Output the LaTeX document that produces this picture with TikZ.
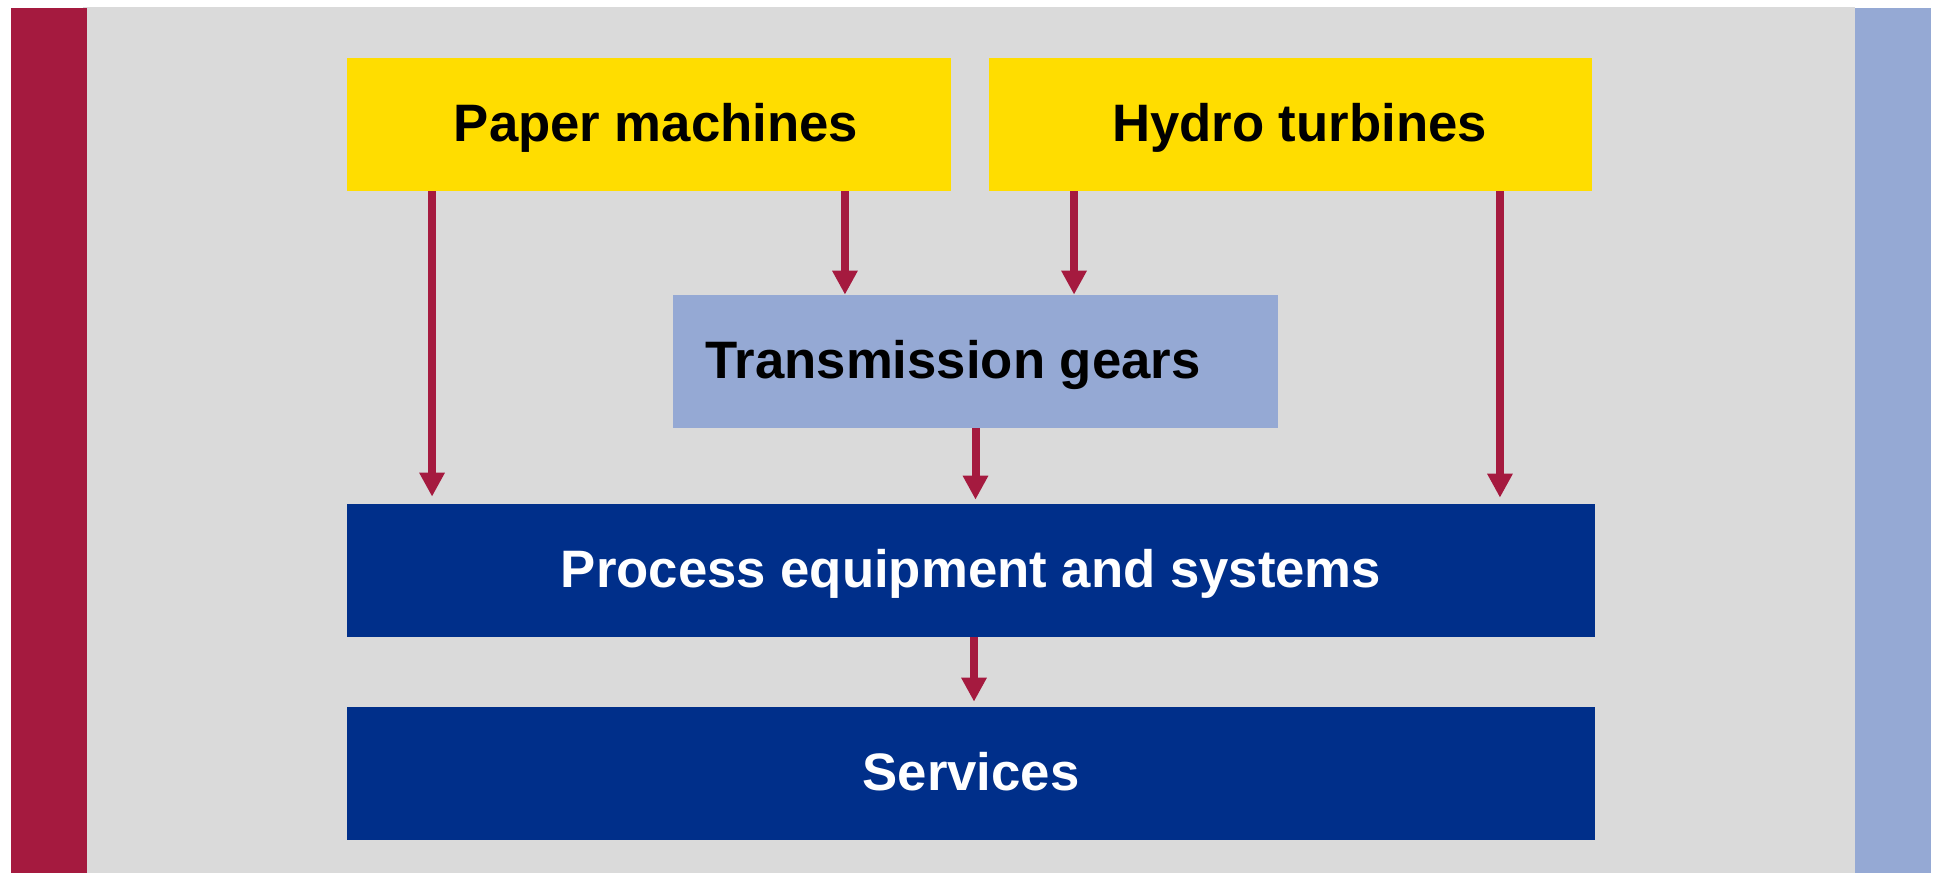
\documentclass[tikz,border=0pt]{standalone}
\usepackage{fontspec}
\setmainfont{Liberation Sans}
\usetikzlibrary{arrows.meta}
\definecolor{barred}{HTML}{A51A3F}
\definecolor{panelgray}{HTML}{DADADA}
\definecolor{barblue}{HTML}{95A9D4}
\definecolor{boxyellow}{HTML}{FFDD00}
\definecolor{boxnavy}{HTML}{002F8A}
\tikzset{%
	every box/.style={
		rectangle,
		inner sep=0pt,
		minimum height=2.66cm,
		text height=22pt,
		text depth=3pt,
		font=\fontsize{30}{36}\selectfont\bfseries
	},
	yellowbox/.style={every box, fill=boxyellow, text=black, minimum width=12.08cm},
	gearbox/.style={every box, fill=barblue, text=black, minimum width=12.1cm},
	navybox/.style={every box, fill=boxnavy, text=white, minimum width=24.96cm},
	flow/.style={
		draw=barred,
		line width=0.16cm,
		-{Triangle[length=0.48cm, width=0.48cm]}
	},
}

\begin{document}
\begin{tikzpicture}[x=0.02cm, y=-0.02cm]
	\useasboundingbox (0,0) rectangle (1934,873);
	% panel and side bars
	\fill[white] (0,0) rectangle (1934,873);
	\fill[panelgray] (83,7) rectangle (1855,873);
	\fill[barred] (11,8) rectangle (87,873);
	\fill[barblue] (1855,8) rectangle (1931,873);
	
	\node[yellowbox] (paper) at (649,124.5) {\hspace{0.28cm}Paper machines};
	\node[yellowbox] (hydro) at (1290.5,124.5) {\hspace{0.36cm}Hydro turbines};
	\node[gearbox] (gears) at (975.5,361.5) {Transmission gears\kern0.9cm};
	\node[navybox] (process) at (971,570.5) {Process equipment and systems};
	\node[navybox] (services) at (971,773.5) {Services};
	
	\draw[flow, shorten >=0.14cm] ([xshift=-4.34cm]paper.south) coordinate (p1) -- (p1 |- process.north);
	\draw[flow] ([xshift=3.92cm]paper.south) coordinate (p2) -- (p2 |- gears.north);
	\draw[flow] ([xshift=-4.33cm]hydro.south) coordinate (h1) -- (h1 |- gears.north);
	\draw[flow, shorten >=0.12cm] ([xshift=4.19cm]hydro.south) coordinate (h2) -- (h2 |- process.north);
	\draw[flow, shorten >=0.08cm] (gears.south) coordinate (g1) -- (g1 |- process.north);
	\draw[flow, shorten >=0.1cm] ([xshift=0.06cm]process.south) coordinate (s1) -- (s1 |- services.north);
	
\end{tikzpicture}
\end{document}
